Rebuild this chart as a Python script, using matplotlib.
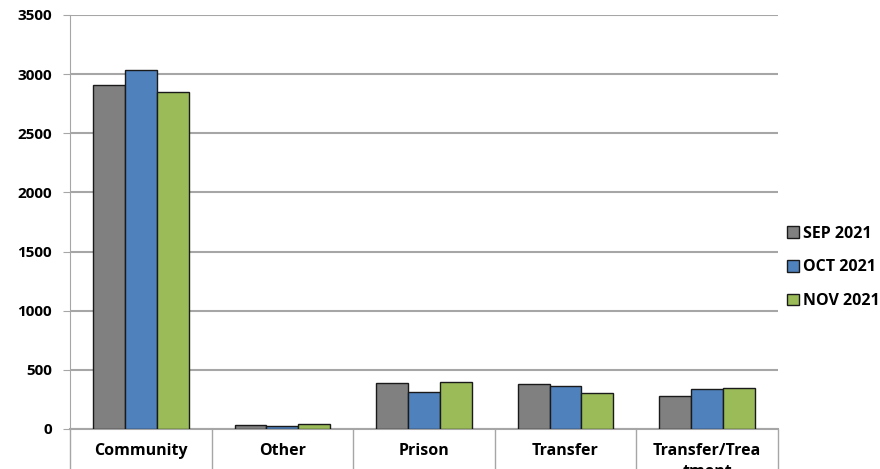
import matplotlib.pyplot as plt
import numpy as np

categories = ["Community", "Other", "Prison", "Transfer", "Transfer/Trea\ntment"]
series_names = ["SEP 2021", "OCT 2021", "NOV 2021"]
sep_2021 = [2910, 35, 390, 380, 280]
oct_2021 = [3030, 25, 315, 360, 340]
nov_2021 = [2845, 45, 400, 305, 350]
colors = ["#808080", "#4F81BD", "#9BBB59"]
y_ticks = [0, 500, 1000, 1500, 2000, 2500, 3000, 3500]

plt.rcParams['font.family'] = ['Open Sans', 'DejaVu Sans']
plt.rcParams['font.weight'] = 'bold'

fig = plt.figure(figsize=(8.8, 4.69), dpi=100)
ax = fig.add_axes([0.0795, 0.0853, 0.8045, 0.883])

x = np.arange(len(categories))
w = 0.225
for i, (vals, name, col) in enumerate(zip([sep_2021, oct_2021, nov_2021], series_names, colors)):
    ax.bar(x + (i - 1) * w, vals, w, color=col, edgecolor="#1a1a1a", linewidth=1.0,
           label=name, zorder=3)

ax.set_xlim(-0.5, len(categories) - 0.5)
ax.set_ylim(0, 3500)
ax.set_yticks(y_ticks)
ax.set_yticklabels([str(v) for v in y_ticks], fontsize=11, fontweight='bold')
ax.yaxis.grid(True, color="#A6A6A6", linewidth=1.5, zorder=0)
ax.tick_params(axis='y', length=5, color="#A6A6A6", pad=8)

# category boundaries as long ticks, labels at centres
ax.set_xticks(np.arange(len(categories) + 1) - 0.5)
ax.set_xticklabels([])
ax.tick_params(axis='x', which='major', length=29, color="#A6A6A6", width=1)
ax.set_xticks(x, minor=True)
ax.set_xticklabels(categories, minor=True, fontsize=11.5, fontweight='bold',
                   va='top', linespacing=1.4)
ax.tick_params(axis='x', which='minor', length=0, pad=10)

for s in ['top', 'right']:
    ax.spines[s].set_visible(False)
ax.spines['left'].set_color("#A6A6A6")
ax.spines['bottom'].set_color("#A6A6A6")
ax.spines['bottom'].set_linewidth(1.5)

ax.legend(loc='center left', bbox_to_anchor=(0.992, 0.39), frameon=False,
          prop={'size': 11.5, 'weight': 'bold'}, handlelength=0.75, handleheight=0.75,
          handletextpad=0.3, labelspacing=1.1)

plt.savefig('out.png', dpi=100)
